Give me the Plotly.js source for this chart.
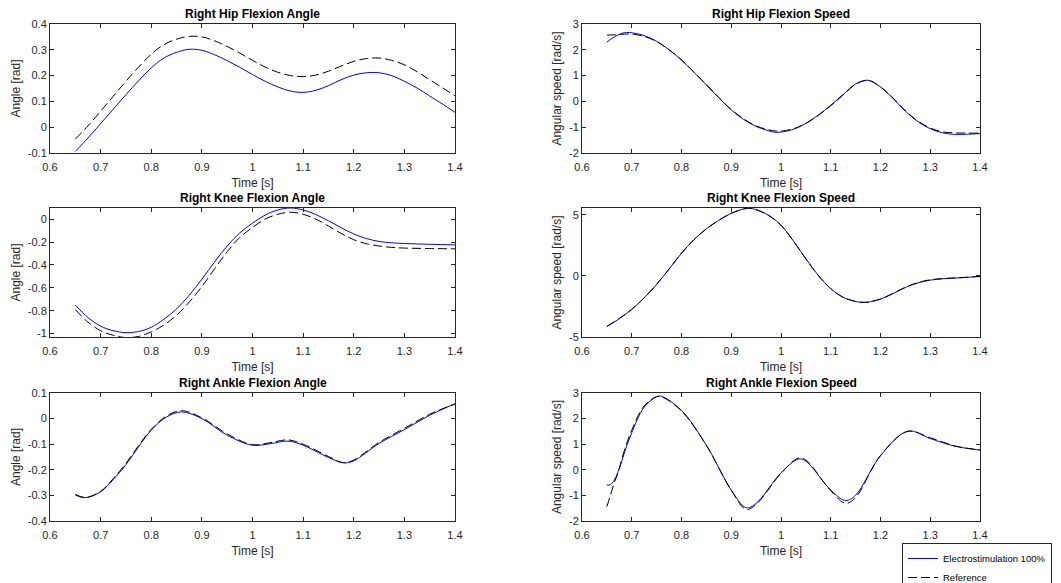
<!DOCTYPE html>
<html>
<head>
<meta charset="utf-8">
<script src="https://cdn.plot.ly/plotly-3.0.1.min.js"></script>
<style>html,body{margin:0;padding:0;background:#fff;overflow:hidden;}#chart{width:1061px;height:583px;}</style>
</head>
<body>
<div id="chart"></div>
<script>
// ---------- data ----------
const hipAngleT = [0.65,0.675,0.70,0.725,0.75,0.775,0.80,0.825,0.85,0.875,0.90,0.925,0.95,0.975,1.00,1.025,1.05,1.075,1.10,1.125,1.15,1.175,1.20,1.225,1.25,1.275,1.30,1.325,1.35,1.375,1.40];
const hipAngleStim = [-0.094,-0.042,0.014,0.070,0.126,0.180,0.230,0.268,0.290,0.302,0.298,0.281,0.258,0.232,0.204,0.178,0.156,0.140,0.135,0.143,0.161,0.184,0.202,0.211,0.211,0.200,0.178,0.152,0.121,0.090,0.058];
const hipAngleRef  = [-0.046,0.005,0.062,0.120,0.178,0.233,0.283,0.320,0.341,0.352,0.350,0.335,0.313,0.287,0.259,0.233,0.213,0.200,0.196,0.202,0.217,0.237,0.255,0.266,0.268,0.259,0.242,0.215,0.184,0.153,0.122];

const hipSpeedT = [0.65,0.665,0.68,0.69,0.70,0.725,0.75,0.775,0.80,0.825,0.85,0.875,0.90,0.925,0.95,0.975,0.99,1.00,1.025,1.05,1.075,1.10,1.125,1.15,1.175,1.20,1.225,1.25,1.275,1.30,1.325,1.35,1.375,1.40];
const hipSpeedStim = [2.30,2.50,2.64,2.67,2.66,2.55,2.33,2.00,1.60,1.13,0.64,0.14,-0.33,-0.70,-0.97,-1.14,-1.20,-1.19,-1.08,-0.85,-0.53,-0.15,0.27,0.68,0.82,0.56,0.12,-0.38,-0.78,-1.06,-1.22,-1.28,-1.27,-1.25];
const hipSpeedRef  = [2.57,2.58,2.60,2.61,2.61,2.52,2.32,2.00,1.61,1.14,0.65,0.15,-0.32,-0.68,-0.95,-1.10,-1.15,-1.15,-1.06,-0.85,-0.54,-0.17,0.25,0.66,0.81,0.56,0.13,-0.36,-0.76,-1.03,-1.18,-1.22,-1.23,-1.23];

const kneeAngleT = [0.65,0.675,0.70,0.725,0.75,0.775,0.80,0.825,0.85,0.875,0.90,0.925,0.95,0.975,1.00,1.025,1.05,1.075,1.10,1.125,1.15,1.175,1.20,1.225,1.25,1.275,1.30,1.35,1.40];
const kneeAngleStim = [-0.751,-0.860,-0.935,-0.975,-0.992,-0.982,-0.945,-0.875,-0.785,-0.665,-0.525,-0.375,-0.235,-0.120,-0.035,0.035,0.080,0.097,0.080,0.040,-0.015,-0.075,-0.130,-0.170,-0.195,-0.207,-0.213,-0.220,-0.225];
const kneeAngleRef  = [-0.790,-0.900,-0.975,-1.015,-1.035,-1.025,-0.985,-0.925,-0.840,-0.725,-0.590,-0.435,-0.285,-0.160,-0.073,0.000,0.042,0.060,0.042,0.000,-0.060,-0.125,-0.180,-0.215,-0.235,-0.247,-0.253,-0.257,-0.260];

const kneeSpeedT = [0.65,0.675,0.70,0.725,0.75,0.775,0.80,0.825,0.85,0.875,0.90,0.925,0.935,0.95,0.975,1.00,1.025,1.05,1.075,1.10,1.125,1.15,1.165,1.175,1.20,1.225,1.25,1.275,1.30,1.325,1.35,1.375,1.40];
const kneeSpeedStim = [-4.15,-3.50,-2.75,-1.80,-0.70,0.55,1.85,2.95,3.85,4.55,5.12,5.48,5.54,5.42,4.95,4.15,2.85,1.40,0.04,-1.05,-1.75,-2.10,-2.17,-2.15,-1.90,-1.45,-0.95,-0.58,-0.35,-0.24,-0.18,-0.12,-0.04];
const kneeSpeedRef  = [-4.13,-3.48,-2.73,-1.79,-0.68,0.56,1.86,2.96,3.85,4.54,5.11,5.47,5.53,5.41,4.94,4.14,2.84,1.39,0.03,-1.05,-1.75,-2.09,-2.16,-2.14,-1.89,-1.44,-0.93,-0.55,-0.32,-0.22,-0.17,-0.11,-0.04];

const ankleAngleT = [0.65,0.67,0.70,0.725,0.75,0.775,0.80,0.83,0.86,0.90,0.95,1.00,1.035,1.07,1.10,1.15,1.18,1.20,1.25,1.30,1.35,1.40];
const ankleAngleStim = [-0.299,-0.309,-0.286,-0.238,-0.180,-0.110,-0.045,0.006,0.026,0.000,-0.065,-0.104,-0.098,-0.088,-0.104,-0.152,-0.173,-0.165,-0.097,-0.043,0.013,0.058];
const ankleAngleRef  = [-0.296,-0.308,-0.284,-0.234,-0.175,-0.105,-0.042,0.010,0.031,0.003,-0.060,-0.102,-0.094,-0.083,-0.100,-0.148,-0.172,-0.162,-0.093,-0.038,0.017,0.057];

const ankleSpeedT = [0.65,0.657,0.665,0.675,0.685,0.70,0.725,0.75,0.76,0.80,0.85,0.90,0.93,0.95,1.00,1.035,1.05,1.10,1.13,1.15,1.20,1.255,1.30,1.35,1.40];
const ankleSpeedStim = [-0.60,-0.58,-0.40,0.05,0.65,1.45,2.45,2.85,2.87,2.32,0.96,-0.79,-1.48,-1.31,-0.12,0.42,0.34,-0.79,-1.20,-0.99,0.55,1.51,1.22,0.92,0.77];
const ankleSpeedRef  = [-1.44,-1.00,-0.50,0.05,0.75,1.55,2.50,2.86,2.85,2.30,0.95,-0.80,-1.55,-1.35,-0.14,0.46,0.38,-0.82,-1.31,-1.08,0.56,1.50,1.25,0.93,0.78];

const xTickVals = [0.6,0.7,0.8,0.9,1.0,1.1,1.2,1.3,1.4];
const xTickText = ['0.6','0.7','0.8','0.9','1','1.1','1.2','1.3','1.4'];
const hipAngleTicks = [-0.1,0,0.1,0.2,0.3,0.4];
const hipAngleTickText = ['-0.1','0','0.1','0.2','0.3','0.4'];
const speedTicks = [-2,-1,0,1,2,3];
const speedTickText = ['-2','-1','0','1','2','3'];
const kneeAngleTicks = [-1,-0.8,-0.6,-0.4,-0.2,0];
const kneeAngleTickText = ['-1','-0.8','-0.6','-0.4','-0.2','0'];
const kneeSpeedTicks = [-5,0,5];
const kneeSpeedTickText = ['-5','0','5'];
const ankleAngleTicks = [-0.4,-0.3,-0.2,-0.1,0,0.1];
const ankleAngleTickText = ['-0.4','-0.3','-0.2','-0.1','0','0.1'];

const titles = ['Right Hip Flexion Angle','Right Hip Flexion Speed','Right Knee Flexion Angle','Right Knee Flexion Speed','Right Ankle Flexion Angle','Right Ankle Flexion Speed'];
const seriesNames = ['Electrostimulation 100%','Reference'];

// ---------- build ----------
const panels = [
  {t:hipAngleT, a:hipAngleStim, b:hipAngleRef, range:[-0.1,0.4], tv:hipAngleTicks, tt:hipAngleTickText, yt:'Angle [rad]'},
  {t:hipSpeedT, a:hipSpeedStim, b:hipSpeedRef, range:[-2,3], tv:speedTicks, tt:speedTickText, yt:'Angular speed [rad/s]'},
  {t:kneeAngleT, a:kneeAngleStim, b:kneeAngleRef, range:[-1.03,0.097], tv:kneeAngleTicks, tt:kneeAngleTickText, yt:'Angle [rad]'},
  {t:kneeSpeedT, a:kneeSpeedStim, b:kneeSpeedRef, range:[-5,5.55], tv:kneeSpeedTicks, tt:kneeSpeedTickText, yt:'Angular speed [rad/s]'},
  {t:ankleAngleT, a:ankleAngleStim, b:ankleAngleRef, range:[-0.4,0.1], tv:ankleAngleTicks, tt:ankleAngleTickText, yt:'Angle [rad]'},
  {t:ankleSpeedT, a:ankleSpeedStim, b:ankleSpeedRef, range:[-2,3], tv:speedTicks, tt:speedTickText, yt:'Angular speed [rad/s]'}
];

const W = 1061, H = 583;
const colPx = [[50,455],[582,980]];
const rowPx = [[24,153],[208,337],[393,521]];

const traces = [];
const layout = {
  width: W, height: H,
  margin: {l:0, r:0, t:0, b:0, autoexpand: false},
  paper_bgcolor: '#fff', plot_bgcolor: '#fff',
  font: {family: 'Liberation Sans, Arial, sans-serif', size: 11, color: '#262626'},
  showlegend: true,
  legend: {x: 902/W, y: 1 - 543/H, xanchor: 'left', yanchor: 'top',
           bgcolor: '#fff', bordercolor: '#262626', borderwidth: 1,
           font: {size: 9.5, color: '#000'}, tracegroupgap: 0},
  annotations: []
};

panels.forEach((p, i) => {
  const n = i + 1;
  const xa = 'x' + (n === 1 ? '' : n), ya = 'y' + (n === 1 ? '' : n);
  const col = i % 2, row = Math.floor(i / 2);
  traces.push({x: p.t, y: p.a, xaxis: xa, yaxis: ya, type: 'scatter', mode: 'lines',
    name: seriesNames[0], showlegend: i === 5, legendrank: 1,
    line: {color: '#0000ff', width: 1, shape: 'spline', smoothing: 1}});
  traces.push({x: p.t, y: p.b, xaxis: xa, yaxis: ya, type: 'scatter', mode: 'lines',
    name: seriesNames[1], showlegend: i === 5, legendrank: 2,
    line: {color: '#000000', width: 1, dash: '9px,4px', shape: 'spline', smoothing: 1}});
  const axCommon = {showline: true, mirror: 'ticks', ticks: 'inside', ticklen: 4, tickwidth: 1,
    linecolor: '#262626', linewidth: 1, tickcolor: '#262626', showgrid: false, zeroline: false,
    tickfont: {size: 11, color: '#262626'}, automargin: false};
  layout['xaxis' + (n === 1 ? '' : n)] = Object.assign({}, axCommon, {
    domain: [colPx[col][0] / W, colPx[col][1] / W], anchor: ya, range: [0.6, 1.4],
    tickmode: 'array', tickvals: xTickVals, ticktext: xTickText, ticklabelstandoff: 4,
    title: {text: 'Time [s]', font: {size: 12, color: '#262626'}, standoff: 6}});
  layout['yaxis' + (n === 1 ? '' : n)] = Object.assign({}, axCommon, {
    domain: [1 - rowPx[row][1] / H, 1 - rowPx[row][0] / H], anchor: xa, range: p.range,
    tickmode: 'array', tickvals: p.tv, ticktext: p.tt,
    title: {text: p.yt, font: {size: 12, color: '#262626'}, standoff: 4}});
  layout.annotations.push({text: '<b>' + titles[i] + '</b>', xref: xa + ' domain', yref: ya + ' domain',
    x: 0.5, y: 1, xanchor: 'center', yanchor: 'bottom', yshift: 1, showarrow: false,
    font: {size: 12, color: '#000'}});
});

Plotly.newPlot('chart', traces, layout, {displayModeBar: false, staticPlot: true});
</script>
</body>
</html>
